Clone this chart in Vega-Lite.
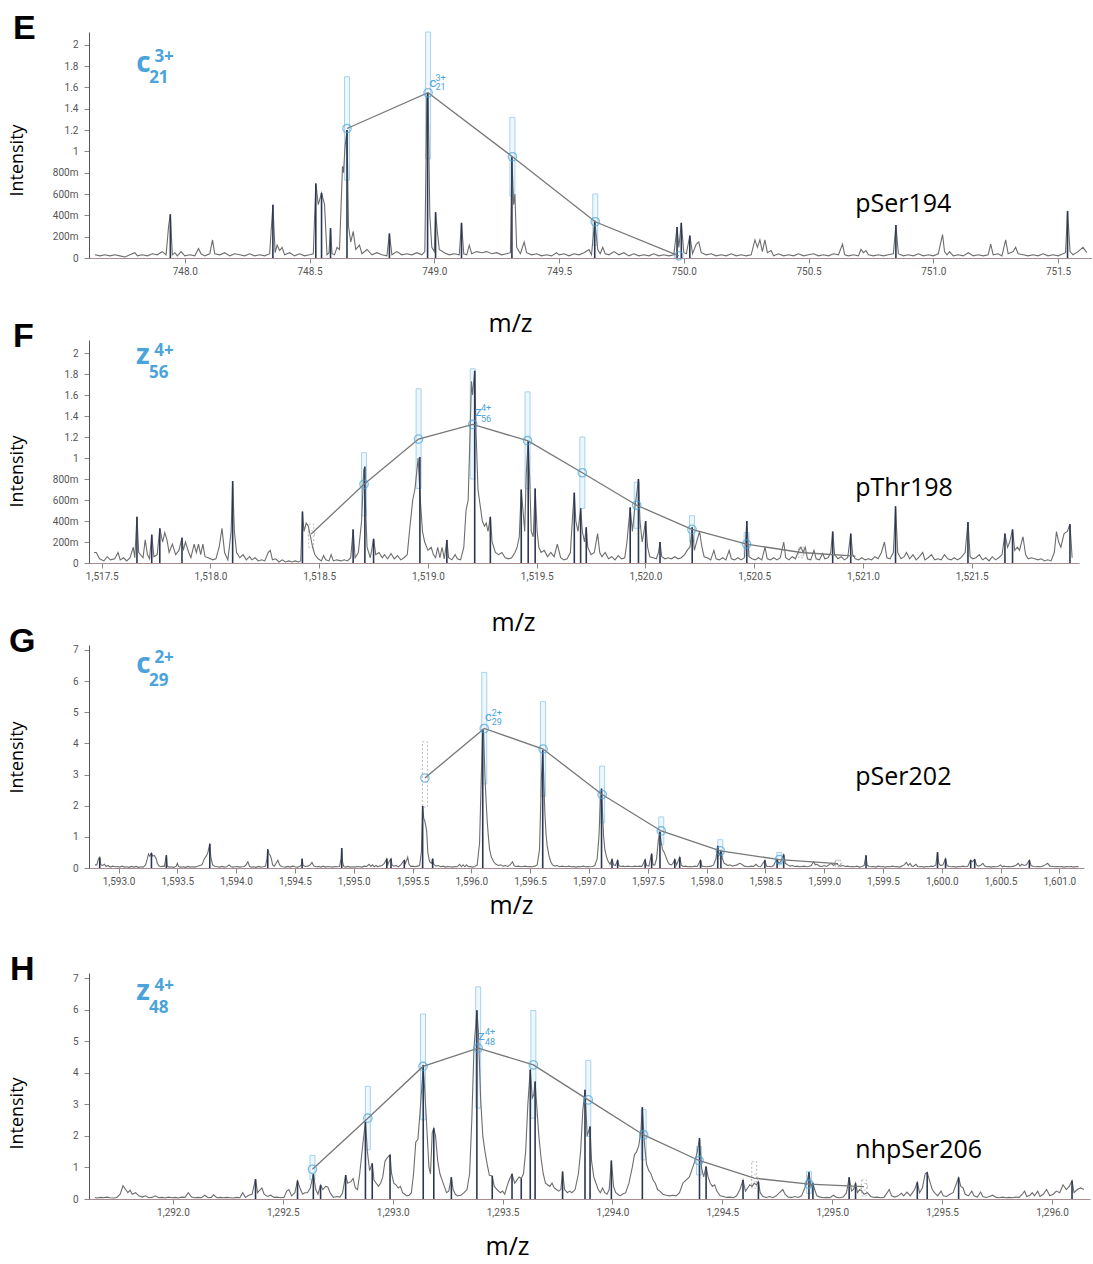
{
"$schema":"https://vega.github.io/schema/vega-lite/v6.json",
"padding":{"left":8,"top":11,"right":0,"bottom":12},
"bounds":"flush",
"spacing":0,
"datasets":{
"Ep":[{"mz":747.64,"i":0.03},{"mz":747.66,"i":0.02},{"mz":747.68,"i":0.03},{"mz":747.70,"i":0.02},{"mz":747.72,"i":0.03},{"mz":747.74,"i":0.02},{"mz":747.76,"i":0.01},{"mz":747.78,"i":0.03},{"mz":747.80,"i":0.05},{"mz":747.81,"i":0.02},{"mz":747.83,"i":0.03},{"mz":747.85,"i":0.02},{"mz":747.87,"i":0.04},{"mz":747.89,"i":0.03},{"mz":747.91,"i":0.06},{"mz":747.925,"i":0.03},{"mz":747.935,"i":0.3},{"mz":747.942,"i":0.41},{"mz":747.95,"i":0.03},{"mz":747.96,"i":0.05},{"mz":747.97,"i":0.02},{"mz":747.985,"i":0.06},{"mz":748.0,"i":0.02},{"mz":748.02,"i":0.03},{"mz":748.04,"i":0.02},{"mz":748.055,"i":0.09},{"mz":748.065,"i":0.04},{"mz":748.08,"i":0.02},{"mz":748.1,"i":0.04},{"mz":748.111,"i":0.17},{"mz":748.12,"i":0.04},{"mz":748.14,"i":0.03},{"mz":748.16,"i":0.05},{"mz":748.18,"i":0.02},{"mz":748.2,"i":0.04},{"mz":748.22,"i":0.03},{"mz":748.24,"i":0.02},{"mz":748.26,"i":0.04},{"mz":748.28,"i":0.02},{"mz":748.3,"i":0.03},{"mz":748.32,"i":0.02},{"mz":748.34,"i":0.04},{"mz":748.353,"i":0.5},{"mz":748.362,"i":0.05},{"mz":748.37,"i":0.12},{"mz":748.38,"i":0.07},{"mz":748.39,"i":0.1},{"mz":748.4,"i":0.03},{"mz":748.42,"i":0.05},{"mz":748.44,"i":0.02},{"mz":748.46,"i":0.04},{"mz":748.48,"i":0.02},{"mz":748.5,"i":0.03},{"mz":748.515,"i":0.04},{"mz":748.525,"i":0.7},{"mz":748.535,"i":0.5},{"mz":748.548,"i":0.61},{"mz":748.56,"i":0.5},{"mz":748.57,"i":0.03},{"mz":748.578,"i":0.05},{"mz":748.584,"i":0.28},{"mz":748.59,"i":0.04},{"mz":748.6,"i":0.03},{"mz":748.61,"i":0.1},{"mz":748.62,"i":0.08},{"mz":748.632,"i":0.86},{"mz":748.636,"i":0.8},{"mz":748.642,"i":1.04},{"mz":748.65,"i":1.2},{"mz":748.656,"i":0.3},{"mz":748.665,"i":0.15},{"mz":748.675,"i":0.25},{"mz":748.685,"i":0.08},{"mz":748.7,"i":0.12},{"mz":748.71,"i":0.04},{"mz":748.73,"i":0.08},{"mz":748.75,"i":0.03},{"mz":748.77,"i":0.05},{"mz":748.79,"i":0.03},{"mz":748.81,"i":0.02},{"mz":748.82,"i":0.23},{"mz":748.83,"i":0.03},{"mz":748.85,"i":0.06},{"mz":748.87,"i":0.03},{"mz":748.89,"i":0.04},{"mz":748.91,"i":0.03},{"mz":748.93,"i":0.05},{"mz":748.95,"i":0.03},{"mz":748.962,"i":0.06},{"mz":748.97,"i":1.5},{"mz":748.975,"i":1.55},{"mz":748.982,"i":0.4},{"mz":748.99,"i":0.1},{"mz":749.0,"i":0.06},{"mz":749.005,"i":0.43},{"mz":749.012,"i":0.25},{"mz":749.02,"i":0.08},{"mz":749.04,"i":0.05},{"mz":749.06,"i":0.03},{"mz":749.08,"i":0.04},{"mz":749.1,"i":0.03},{"mz":749.109,"i":0.33},{"mz":749.118,"i":0.04},{"mz":749.13,"i":0.03},{"mz":749.14,"i":0.12},{"mz":749.15,"i":0.04},{"mz":749.17,"i":0.06},{"mz":749.19,"i":0.05},{"mz":749.21,"i":0.06},{"mz":749.23,"i":0.04},{"mz":749.25,"i":0.05},{"mz":749.27,"i":0.03},{"mz":749.29,"i":0.04},{"mz":749.305,"i":0.05},{"mz":749.311,"i":0.93},{"mz":749.318,"i":0.5},{"mz":749.323,"i":0.6},{"mz":749.33,"i":0.1},{"mz":749.345,"i":0.04},{"mz":749.36,"i":0.15},{"mz":749.37,"i":0.05},{"mz":749.39,"i":0.03},{"mz":749.41,"i":0.04},{"mz":749.43,"i":0.02},{"mz":749.45,"i":0.03},{"mz":749.47,"i":0.02},{"mz":749.49,"i":0.05},{"mz":749.5,"i":0.03},{"mz":749.52,"i":0.04},{"mz":749.54,"i":0.02},{"mz":749.56,"i":0.04},{"mz":749.58,"i":0.03},{"mz":749.6,"i":0.05},{"mz":749.62,"i":0.08},{"mz":749.63,"i":0.03},{"mz":749.643,"i":0.35},{"mz":749.655,"i":0.08},{"mz":749.665,"i":0.04},{"mz":749.675,"i":0.1},{"mz":749.685,"i":0.04},{"mz":749.7,"i":0.03},{"mz":749.72,"i":0.06},{"mz":749.74,"i":0.03},{"mz":749.76,"i":0.05},{"mz":749.78,"i":0.02},{"mz":749.8,"i":0.04},{"mz":749.82,"i":0.02},{"mz":749.84,"i":0.03},{"mz":749.86,"i":0.02},{"mz":749.88,"i":0.04},{"mz":749.9,"i":0.02},{"mz":749.92,"i":0.03},{"mz":749.94,"i":0.02},{"mz":749.96,"i":0.03},{"mz":749.973,"i":0.29},{"mz":749.98,"i":0.1},{"mz":749.99,"i":0.33},{"mz":750.0,"i":0.05},{"mz":750.01,"i":0.04},{"mz":750.024,"i":0.21},{"mz":750.035,"i":0.04},{"mz":750.05,"i":0.13},{"mz":750.06,"i":0.15},{"mz":750.07,"i":0.05},{"mz":750.09,"i":0.03},{"mz":750.11,"i":0.04},{"mz":750.13,"i":0.02},{"mz":750.15,"i":0.03},{"mz":750.17,"i":0.02},{"mz":750.19,"i":0.04},{"mz":750.21,"i":0.02},{"mz":750.23,"i":0.03},{"mz":750.25,"i":0.02},{"mz":750.27,"i":0.03},{"mz":750.285,"i":0.17},{"mz":750.295,"i":0.1},{"mz":750.305,"i":0.17},{"mz":750.315,"i":0.06},{"mz":750.325,"i":0.17},{"mz":750.335,"i":0.05},{"mz":750.35,"i":0.07},{"mz":750.36,"i":0.02},{"mz":750.38,"i":0.04},{"mz":750.4,"i":0.02},{"mz":750.42,"i":0.03},{"mz":750.44,"i":0.02},{"mz":750.46,"i":0.04},{"mz":750.48,"i":0.02},{"mz":750.5,"i":0.03},{"mz":750.52,"i":0.04},{"mz":750.54,"i":0.02},{"mz":750.56,"i":0.03},{"mz":750.58,"i":0.02},{"mz":750.6,"i":0.04},{"mz":750.62,"i":0.03},{"mz":750.636,"i":0.13},{"mz":750.645,"i":0.03},{"mz":750.66,"i":0.02},{"mz":750.68,"i":0.03},{"mz":750.7,"i":0.02},{"mz":750.71,"i":0.08},{"mz":750.72,"i":0.05},{"mz":750.73,"i":0.07},{"mz":750.74,"i":0.03},{"mz":750.76,"i":0.02},{"mz":750.78,"i":0.03},{"mz":750.8,"i":0.02},{"mz":750.82,"i":0.03},{"mz":750.84,"i":0.04},{"mz":750.85,"i":0.31},{"mz":750.86,"i":0.04},{"mz":750.88,"i":0.02},{"mz":750.9,"i":0.03},{"mz":750.92,"i":0.02},{"mz":750.94,"i":0.04},{"mz":750.96,"i":0.02},{"mz":750.98,"i":0.03},{"mz":751.0,"i":0.02},{"mz":751.02,"i":0.04},{"mz":751.037,"i":0.22},{"mz":751.045,"i":0.06},{"mz":751.055,"i":0.03},{"mz":751.065,"i":0.06},{"mz":751.08,"i":0.02},{"mz":751.1,"i":0.03},{"mz":751.12,"i":0.02},{"mz":751.14,"i":0.05},{"mz":751.16,"i":0.02},{"mz":751.18,"i":0.03},{"mz":751.2,"i":0.02},{"mz":751.22,"i":0.03},{"mz":751.23,"i":0.13},{"mz":751.24,"i":0.03},{"mz":751.26,"i":0.04},{"mz":751.275,"i":0.02},{"mz":751.29,"i":0.17},{"mz":751.3,"i":0.04},{"mz":751.32,"i":0.06},{"mz":751.33,"i":0.1},{"mz":751.34,"i":0.04},{"mz":751.36,"i":0.03},{"mz":751.38,"i":0.02},{"mz":751.4,"i":0.03},{"mz":751.42,"i":0.02},{"mz":751.44,"i":0.04},{"mz":751.46,"i":0.02},{"mz":751.48,"i":0.03},{"mz":751.5,"i":0.02},{"mz":751.52,"i":0.04},{"mz":751.53,"i":0.05},{"mz":751.538,"i":0.44},{"mz":751.548,"i":0.06},{"mz":751.56,"i":0.03},{"mz":751.58,"i":0.06},{"mz":751.6,"i":0.1},{"mz":751.615,"i":0.05}],
"Es":[{"mz":747.942,"i":0.41},{"mz":748.353,"i":0.5},{"mz":748.525,"i":0.7},{"mz":748.548,"i":0.61},{"mz":748.584,"i":0.28},{"mz":748.65,"i":1.2},{"mz":748.82,"i":0.23},{"mz":748.973,"i":1.55},{"mz":749.005,"i":0.43},{"mz":749.109,"i":0.33},{"mz":749.311,"i":0.95},{"mz":749.643,"i":0.35},{"mz":749.973,"i":0.29},{"mz":749.99,"i":0.33},{"mz":750.024,"i":0.21},{"mz":750.85,"i":0.31},{"mz":751.538,"i":0.44}],
"Ee":[{"mz":748.65,"i":1.215,"m":"y"},{"mz":748.975,"i":1.55,"m":"y"},{"mz":749.313,"i":0.95,"m":"y"},{"mz":749.645,"i":0.34,"m":"y"},{"mz":749.98,"i":0.02,"m":"y"}],
"Eb":[{"mz":748.65,"lo":0.73,"hi":1.7,"m":"y"},{"mz":748.975,"lo":0.93,"hi":2.12,"m":"y"},{"mz":749.313,"lo":0.58,"hi":1.32,"m":"y"},{"mz":749.645,"lo":0.12,"hi":0.6,"m":"y"}],
"El":[{"mz":747.805,"i":1.746,"t":"c","k":"big"},{"mz":747.878,"i":1.837,"t":"3+","k":"bigs"},{"mz":747.857,"i":1.638,"t":"21","k":"bigs"},{"mz":748.981,"i":1.603,"t":"c","k":"sym"},{"mz":749.005,"i":1.66,"t":"3+","k":"sm"},{"mz":749.005,"i":1.575,"t":"21","k":"sm"},{"mz":750.687,"i":0.432,"t":"pSer194","k":"name"}],

"Fp":[{"mz":1517.465,"i":0.1},{"mz":1517.475,"i":0.1},{"mz":1517.49,"i":0.04},{"mz":1517.51,"i":0.02},{"mz":1517.525,"i":0.06},{"mz":1517.54,"i":0.03},{"mz":1517.56,"i":0.04},{"mz":1517.575,"i":0.1},{"mz":1517.585,"i":0.03},{"mz":1517.6,"i":0.05},{"mz":1517.615,"i":0.02},{"mz":1517.63,"i":0.05},{"mz":1517.645,"i":0.15},{"mz":1517.652,"i":0.05},{"mz":1517.662,"i":0.44},{"mz":1517.67,"i":0.1},{"mz":1517.69,"i":0.05},{"mz":1517.7,"i":0.22},{"mz":1517.71,"i":0.08},{"mz":1517.72,"i":0.04},{"mz":1517.73,"i":0.27},{"mz":1517.74,"i":0.06},{"mz":1517.755,"i":0.08},{"mz":1517.767,"i":0.33},{"mz":1517.78,"i":0.2},{"mz":1517.79,"i":0.29},{"mz":1517.8,"i":0.22},{"mz":1517.81,"i":0.1},{"mz":1517.825,"i":0.18},{"mz":1517.84,"i":0.08},{"mz":1517.855,"i":0.12},{"mz":1517.869,"i":0.24},{"mz":1517.875,"i":0.12},{"mz":1517.885,"i":0.2},{"mz":1517.9,"i":0.1},{"mz":1517.91,"i":0.05},{"mz":1517.925,"i":0.18},{"mz":1517.935,"i":0.1},{"mz":1517.945,"i":0.18},{"mz":1517.955,"i":0.08},{"mz":1517.965,"i":0.18},{"mz":1517.975,"i":0.06},{"mz":1517.99,"i":0.05},{"mz":1518.01,"i":0.03},{"mz":1518.025,"i":0.04},{"mz":1518.04,"i":0.15},{"mz":1518.053,"i":0.33},{"mz":1518.065,"i":0.1},{"mz":1518.08,"i":0.03},{"mz":1518.095,"i":0.3},{"mz":1518.102,"i":0.78},{"mz":1518.11,"i":0.3},{"mz":1518.12,"i":0.1},{"mz":1518.135,"i":0.05},{"mz":1518.15,"i":0.08},{"mz":1518.165,"i":0.03},{"mz":1518.18,"i":0.06},{"mz":1518.19,"i":0.03},{"mz":1518.205,"i":0.05},{"mz":1518.22,"i":0.02},{"mz":1518.235,"i":0.03},{"mz":1518.25,"i":0.02},{"mz":1518.265,"i":0.1},{"mz":1518.275,"i":0.12},{"mz":1518.285,"i":0.03},{"mz":1518.3,"i":0.04},{"mz":1518.315,"i":0.01},{"mz":1518.33,"i":0.03},{"mz":1518.345,"i":0.01},{"mz":1518.36,"i":0.02},{"mz":1518.375,"i":0.01},{"mz":1518.39,"i":0.02},{"mz":1518.405,"i":0.01},{"mz":1518.415,"i":0.02},{"mz":1518.423,"i":0.49},{"mz":1518.43,"i":0.3},{"mz":1518.44,"i":0.38},{"mz":1518.45,"i":0.35},{"mz":1518.46,"i":0.25},{"mz":1518.47,"i":0.15},{"mz":1518.48,"i":0.08},{"mz":1518.495,"i":0.04},{"mz":1518.51,"i":0.02},{"mz":1518.52,"i":0.07},{"mz":1518.53,"i":0.03},{"mz":1518.545,"i":0.02},{"mz":1518.555,"i":0.08},{"mz":1518.565,"i":0.02},{"mz":1518.58,"i":0.03},{"mz":1518.6,"i":0.02},{"mz":1518.615,"i":0.03},{"mz":1518.63,"i":0.02},{"mz":1518.645,"i":0.05},{"mz":1518.656,"i":0.32},{"mz":1518.665,"i":0.05},{"mz":1518.68,"i":0.1},{"mz":1518.695,"i":0.4},{"mz":1518.705,"i":0.9},{"mz":1518.712,"i":0.6},{"mz":1518.72,"i":0.15},{"mz":1518.735,"i":0.05},{"mz":1518.75,"i":0.23},{"mz":1518.76,"i":0.08},{"mz":1518.775,"i":0.1},{"mz":1518.79,"i":0.05},{"mz":1518.8,"i":0.08},{"mz":1518.815,"i":0.04},{"mz":1518.83,"i":0.09},{"mz":1518.845,"i":0.04},{"mz":1518.86,"i":0.07},{"mz":1518.875,"i":0.03},{"mz":1518.89,"i":0.05},{"mz":1518.905,"i":0.08},{"mz":1518.915,"i":0.3},{"mz":1518.93,"i":0.6},{"mz":1518.94,"i":0.7},{"mz":1518.955,"i":1.0},{"mz":1518.965,"i":0.6},{"mz":1518.975,"i":0.3},{"mz":1518.985,"i":0.2},{"mz":1519.0,"i":0.12},{"mz":1519.015,"i":0.15},{"mz":1519.025,"i":0.08},{"mz":1519.035,"i":0.05},{"mz":1519.045,"i":0.15},{"mz":1519.055,"i":0.05},{"mz":1519.065,"i":0.15},{"mz":1519.075,"i":0.04},{"mz":1519.087,"i":0.22},{"mz":1519.095,"i":0.05},{"mz":1519.11,"i":0.03},{"mz":1519.125,"i":0.08},{"mz":1519.135,"i":0.04},{"mz":1519.15,"i":0.03},{"mz":1519.165,"i":0.15},{"mz":1519.175,"i":0.5},{"mz":1519.185,"i":0.6},{"mz":1519.195,"i":1.35},{"mz":1519.2,"i":1.73},{"mz":1519.205,"i":1.6},{"mz":1519.215,"i":1.83},{"mz":1519.222,"i":1.2},{"mz":1519.23,"i":0.7},{"mz":1519.24,"i":0.55},{"mz":1519.25,"i":0.4},{"mz":1519.26,"i":0.35},{"mz":1519.268,"i":0.38},{"mz":1519.276,"i":0.3},{"mz":1519.287,"i":0.44},{"mz":1519.295,"i":0.2},{"mz":1519.31,"i":0.1},{"mz":1519.325,"i":0.08},{"mz":1519.34,"i":0.1},{"mz":1519.355,"i":0.05},{"mz":1519.37,"i":0.04},{"mz":1519.385,"i":0.05},{"mz":1519.4,"i":0.1},{"mz":1519.41,"i":0.15},{"mz":1519.42,"i":0.25},{"mz":1519.429,"i":0.7},{"mz":1519.437,"i":0.5},{"mz":1519.445,"i":0.3},{"mz":1519.452,"i":0.85},{"mz":1519.461,"i":1.16},{"mz":1519.468,"i":0.8},{"mz":1519.475,"i":0.3},{"mz":1519.484,"i":0.25},{"mz":1519.493,"i":0.71},{"mz":1519.502,"i":0.3},{"mz":1519.51,"i":0.15},{"mz":1519.52,"i":0.1},{"mz":1519.535,"i":0.12},{"mz":1519.55,"i":0.06},{"mz":1519.565,"i":0.1},{"mz":1519.58,"i":0.06},{"mz":1519.595,"i":0.18},{"mz":1519.61,"i":0.05},{"mz":1519.625,"i":0.03},{"mz":1519.64,"i":0.04},{"mz":1519.655,"i":0.1},{"mz":1519.665,"i":0.45},{"mz":1519.673,"i":0.67},{"mz":1519.68,"i":0.4},{"mz":1519.69,"i":0.3},{"mz":1519.702,"i":0.52},{"mz":1519.71,"i":0.3},{"mz":1519.72,"i":0.2},{"mz":1519.728,"i":0.34},{"mz":1519.735,"i":0.15},{"mz":1519.75,"i":0.08},{"mz":1519.765,"i":0.1},{"mz":1519.78,"i":0.28},{"mz":1519.79,"i":0.1},{"mz":1519.8,"i":0.06},{"mz":1519.815,"i":0.1},{"mz":1519.83,"i":0.04},{"mz":1519.845,"i":0.06},{"mz":1519.86,"i":0.03},{"mz":1519.875,"i":0.07},{"mz":1519.89,"i":0.04},{"mz":1519.905,"i":0.05},{"mz":1519.915,"i":0.2},{"mz":1519.93,"i":0.53},{"mz":1519.94,"i":0.3},{"mz":1519.95,"i":0.5},{"mz":1519.968,"i":0.8},{"mz":1519.975,"i":0.4},{"mz":1519.985,"i":0.2},{"mz":1520.001,"i":0.4},{"mz":1520.01,"i":0.15},{"mz":1520.02,"i":0.06},{"mz":1520.035,"i":0.05},{"mz":1520.05,"i":0.04},{"mz":1520.06,"i":0.1},{"mz":1520.067,"i":0.2},{"mz":1520.075,"i":0.06},{"mz":1520.09,"i":0.04},{"mz":1520.105,"i":0.05},{"mz":1520.12,"i":0.04},{"mz":1520.135,"i":0.06},{"mz":1520.15,"i":0.04},{"mz":1520.165,"i":0.05},{"mz":1520.18,"i":0.08},{"mz":1520.195,"i":0.13},{"mz":1520.205,"i":0.15},{"mz":1520.215,"i":0.34},{"mz":1520.225,"i":0.12},{"mz":1520.235,"i":0.2},{"mz":1520.249,"i":0.3},{"mz":1520.26,"i":0.15},{"mz":1520.27,"i":0.06},{"mz":1520.285,"i":0.05},{"mz":1520.3,"i":0.03},{"mz":1520.315,"i":0.12},{"mz":1520.325,"i":0.04},{"mz":1520.34,"i":0.03},{"mz":1520.355,"i":0.05},{"mz":1520.37,"i":0.03},{"mz":1520.385,"i":0.12},{"mz":1520.395,"i":0.04},{"mz":1520.41,"i":0.03},{"mz":1520.425,"i":0.05},{"mz":1520.44,"i":0.03},{"mz":1520.455,"i":0.05},{"mz":1520.466,"i":0.4},{"mz":1520.476,"i":0.06},{"mz":1520.49,"i":0.04},{"mz":1520.505,"i":0.03},{"mz":1520.52,"i":0.05},{"mz":1520.535,"i":0.03},{"mz":1520.55,"i":0.15},{"mz":1520.56,"i":0.04},{"mz":1520.575,"i":0.03},{"mz":1520.59,"i":0.05},{"mz":1520.605,"i":0.03},{"mz":1520.62,"i":0.05},{"mz":1520.636,"i":0.2},{"mz":1520.645,"i":0.05},{"mz":1520.66,"i":0.03},{"mz":1520.675,"i":0.06},{"mz":1520.69,"i":0.04},{"mz":1520.705,"i":0.12},{"mz":1520.715,"i":0.15},{"mz":1520.725,"i":0.1},{"mz":1520.735,"i":0.15},{"mz":1520.745,"i":0.04},{"mz":1520.76,"i":0.03},{"mz":1520.775,"i":0.12},{"mz":1520.785,"i":0.04},{"mz":1520.8,"i":0.03},{"mz":1520.815,"i":0.09},{"mz":1520.825,"i":0.04},{"mz":1520.84,"i":0.05},{"mz":1520.852,"i":0.1},{"mz":1520.861,"i":0.3},{"mz":1520.87,"i":0.08},{"mz":1520.885,"i":0.04},{"mz":1520.9,"i":0.06},{"mz":1520.915,"i":0.03},{"mz":1520.93,"i":0.05},{"mz":1520.944,"i":0.28},{"mz":1520.953,"i":0.08},{"mz":1520.965,"i":0.04},{"mz":1520.98,"i":0.03},{"mz":1520.995,"i":0.05},{"mz":1521.01,"i":0.03},{"mz":1521.025,"i":0.04},{"mz":1521.04,"i":0.03},{"mz":1521.055,"i":0.06},{"mz":1521.07,"i":0.04},{"mz":1521.085,"i":0.1},{"mz":1521.099,"i":0.2},{"mz":1521.11,"i":0.05},{"mz":1521.125,"i":0.04},{"mz":1521.14,"i":0.1},{"mz":1521.15,"i":0.54},{"mz":1521.16,"i":0.1},{"mz":1521.175,"i":0.04},{"mz":1521.19,"i":0.06},{"mz":1521.2,"i":0.1},{"mz":1521.215,"i":0.04},{"mz":1521.23,"i":0.08},{"mz":1521.245,"i":0.03},{"mz":1521.26,"i":0.06},{"mz":1521.275,"i":0.1},{"mz":1521.285,"i":0.03},{"mz":1521.3,"i":0.05},{"mz":1521.315,"i":0.08},{"mz":1521.33,"i":0.03},{"mz":1521.345,"i":0.04},{"mz":1521.36,"i":0.03},{"mz":1521.375,"i":0.08},{"mz":1521.39,"i":0.04},{"mz":1521.405,"i":0.03},{"mz":1521.42,"i":0.05},{"mz":1521.435,"i":0.03},{"mz":1521.45,"i":0.05},{"mz":1521.47,"i":0.1},{"mz":1521.483,"i":0.39},{"mz":1521.493,"i":0.06},{"mz":1521.505,"i":0.04},{"mz":1521.52,"i":0.05},{"mz":1521.535,"i":0.08},{"mz":1521.55,"i":0.03},{"mz":1521.565,"i":0.05},{"mz":1521.58,"i":0.02},{"mz":1521.595,"i":0.06},{"mz":1521.61,"i":0.03},{"mz":1521.625,"i":0.05},{"mz":1521.64,"i":0.08},{"mz":1521.653,"i":0.28},{"mz":1521.665,"i":0.15},{"mz":1521.675,"i":0.2},{"mz":1521.688,"i":0.32},{"mz":1521.698,"i":0.12},{"mz":1521.71,"i":0.15},{"mz":1521.72,"i":0.12},{"mz":1521.736,"i":0.25},{"mz":1521.748,"i":0.08},{"mz":1521.76,"i":0.04},{"mz":1521.775,"i":0.05},{"mz":1521.79,"i":0.04},{"mz":1521.805,"i":0.03},{"mz":1521.82,"i":0.04},{"mz":1521.835,"i":0.02},{"mz":1521.85,"i":0.03},{"mz":1521.865,"i":0.02},{"mz":1521.88,"i":0.1},{"mz":1521.89,"i":0.3},{"mz":1521.9,"i":0.2},{"mz":1521.91,"i":0.15},{"mz":1521.925,"i":0.28},{"mz":1521.94,"i":0.3},{"mz":1521.952,"i":0.37},{"mz":1521.962,"i":0.05}],
"Fs":[{"mz":1517.662,"i":0.44},{"mz":1517.73,"i":0.27},{"mz":1517.767,"i":0.33},{"mz":1517.869,"i":0.24},{"mz":1518.102,"i":0.78},{"mz":1518.423,"i":0.49},{"mz":1518.656,"i":0.32},{"mz":1518.71,"i":0.92},{"mz":1518.75,"i":0.23},{"mz":1518.963,"i":1.01},{"mz":1519.087,"i":0.22},{"mz":1519.215,"i":1.83},{"mz":1519.287,"i":0.44},{"mz":1519.429,"i":0.7},{"mz":1519.461,"i":1.16},{"mz":1519.493,"i":0.71},{"mz":1519.673,"i":0.67},{"mz":1519.702,"i":0.52},{"mz":1519.728,"i":0.34},{"mz":1519.93,"i":0.53},{"mz":1519.968,"i":0.8},{"mz":1520.001,"i":0.4},{"mz":1520.067,"i":0.2},{"mz":1520.215,"i":0.34},{"mz":1520.466,"i":0.4},{"mz":1520.861,"i":0.3},{"mz":1520.944,"i":0.28},{"mz":1521.15,"i":0.54},{"mz":1521.483,"i":0.39},{"mz":1521.653,"i":0.28},{"mz":1521.688,"i":0.32},{"mz":1521.952,"i":0.37}],
"Fe":[{"mz":1518.463,"i":0.276,"m":"n"},{"mz":1518.706,"i":0.75,"m":"y"},{"mz":1518.957,"i":1.18,"m":"y"},{"mz":1519.206,"i":1.32,"m":"y"},{"mz":1519.458,"i":1.165,"m":"y"},{"mz":1519.71,"i":0.86,"m":"y"},{"mz":1519.96,"i":0.55,"m":"y"},{"mz":1520.214,"i":0.32,"m":"y"},{"mz":1520.465,"i":0.18,"m":"y"},{"mz":1520.716,"i":0.1,"m":"n"},{"mz":1520.966,"i":0.065,"m":"x"}],
"Fb":[{"mz":1518.463,"lo":0.15,"hi":0.37,"m":"n"},{"mz":1518.706,"lo":0.45,"hi":1.05,"m":"y"},{"mz":1518.957,"lo":0.71,"hi":1.66,"m":"y"},{"mz":1519.206,"lo":0.8,"hi":1.85,"m":"y"},{"mz":1519.458,"lo":0.71,"hi":1.63,"m":"y"},{"mz":1519.71,"lo":0.52,"hi":1.2,"m":"y"},{"mz":1519.96,"lo":0.33,"hi":0.77,"m":"y"},{"mz":1520.214,"lo":0.2,"hi":0.45,"m":"y"},{"mz":1520.465,"lo":0.07,"hi":0.29,"m":"y"},{"mz":1520.716,"lo":0.05,"hi":0.15,"m":"n"}],
"Fl":[{"mz":1517.658,"i":1.898,"t":"z","k":"big"},{"mz":1517.742,"i":1.974,"t":"4+","k":"bigs"},{"mz":1517.717,"i":1.765,"t":"56","k":"bigs"},{"mz":1519.217,"i":1.4,"t":"z","k":"sym"},{"mz":1519.244,"i":1.45,"t":"4+","k":"sm"},{"mz":1519.244,"i":1.346,"t":"56","k":"sm"},{"mz":1520.965,"i":0.641,"t":"pThr198","k":"name"}],

"Gp":[{"mz":1592.8,"i":0.1},{"mz":1592.815,"i":0.1},{"mz":1592.83,"i":0.3},{"mz":1592.84,"i":0.35},{"mz":1592.85,"i":0.1},{"mz":1592.865,"i":0.08},{"mz":1592.88,"i":0.12},{"mz":1592.895,"i":0.05},{"mz":1592.91,"i":0.08},{"mz":1592.93,"i":0.03},{"mz":1592.95,"i":0.06},{"mz":1592.97,"i":0.04},{"mz":1592.99,"i":0.05},{"mz":1593.01,"i":0.03},{"mz":1593.03,"i":0.06},{"mz":1593.05,"i":0.03},{"mz":1593.07,"i":0.04},{"mz":1593.09,"i":0.02},{"mz":1593.11,"i":0.05},{"mz":1593.13,"i":0.03},{"mz":1593.15,"i":0.05},{"mz":1593.17,"i":0.02},{"mz":1593.19,"i":0.04},{"mz":1593.21,"i":0.03},{"mz":1593.23,"i":0.1},{"mz":1593.245,"i":0.3},{"mz":1593.255,"i":0.45},{"mz":1593.265,"i":0.38},{"mz":1593.28,"i":0.48},{"mz":1593.29,"i":0.38},{"mz":1593.305,"i":0.4},{"mz":1593.32,"i":0.3},{"mz":1593.33,"i":0.15},{"mz":1593.345,"i":0.06},{"mz":1593.36,"i":0.04},{"mz":1593.375,"i":0.06},{"mz":1593.39,"i":0.05},{"mz":1593.407,"i":0.41},{"mz":1593.415,"i":0.06},{"mz":1593.43,"i":0.03},{"mz":1593.45,"i":0.04},{"mz":1593.47,"i":0.02},{"mz":1593.49,"i":0.05},{"mz":1593.5,"i":0.15},{"mz":1593.51,"i":0.05},{"mz":1593.53,"i":0.03},{"mz":1593.55,"i":0.04},{"mz":1593.57,"i":0.02},{"mz":1593.59,"i":0.05},{"mz":1593.61,"i":0.03},{"mz":1593.63,"i":0.04},{"mz":1593.65,"i":0.03},{"mz":1593.67,"i":0.05},{"mz":1593.69,"i":0.08},{"mz":1593.71,"i":0.1},{"mz":1593.73,"i":0.3},{"mz":1593.746,"i":0.38},{"mz":1593.76,"i":0.5},{"mz":1593.776,"i":0.78},{"mz":1593.785,"i":0.35},{"mz":1593.8,"i":0.1},{"mz":1593.82,"i":0.05},{"mz":1593.84,"i":0.04},{"mz":1593.86,"i":0.03},{"mz":1593.88,"i":0.05},{"mz":1593.9,"i":0.03},{"mz":1593.92,"i":0.04},{"mz":1593.94,"i":0.1},{"mz":1593.955,"i":0.05},{"mz":1593.97,"i":0.03},{"mz":1593.99,"i":0.04},{"mz":1594.01,"i":0.05},{"mz":1594.03,"i":0.03},{"mz":1594.05,"i":0.04},{"mz":1594.07,"i":0.05},{"mz":1594.085,"i":0.1},{"mz":1594.1,"i":0.2},{"mz":1594.115,"i":0.05},{"mz":1594.13,"i":0.03},{"mz":1594.15,"i":0.04},{"mz":1594.17,"i":0.02},{"mz":1594.19,"i":0.05},{"mz":1594.21,"i":0.03},{"mz":1594.23,"i":0.04},{"mz":1594.25,"i":0.06},{"mz":1594.262,"i":0.3},{"mz":1594.269,"i":0.6},{"mz":1594.28,"i":0.45},{"mz":1594.29,"i":0.4},{"mz":1594.3,"i":0.3},{"mz":1594.31,"i":0.1},{"mz":1594.325,"i":0.06},{"mz":1594.34,"i":0.15},{"mz":1594.355,"i":0.25},{"mz":1594.37,"i":0.1},{"mz":1594.385,"i":0.05},{"mz":1594.4,"i":0.04},{"mz":1594.42,"i":0.03},{"mz":1594.44,"i":0.05},{"mz":1594.46,"i":0.03},{"mz":1594.48,"i":0.06},{"mz":1594.5,"i":0.04},{"mz":1594.52,"i":0.03},{"mz":1594.54,"i":0.05},{"mz":1594.555,"i":0.1},{"mz":1594.561,"i":0.3},{"mz":1594.57,"i":0.08},{"mz":1594.59,"i":0.05},{"mz":1594.61,"i":0.06},{"mz":1594.63,"i":0.1},{"mz":1594.645,"i":0.18},{"mz":1594.66,"i":0.06},{"mz":1594.68,"i":0.04},{"mz":1594.7,"i":0.05},{"mz":1594.72,"i":0.03},{"mz":1594.74,"i":0.06},{"mz":1594.76,"i":0.03},{"mz":1594.78,"i":0.05},{"mz":1594.8,"i":0.04},{"mz":1594.82,"i":0.03},{"mz":1594.84,"i":0.05},{"mz":1594.86,"i":0.04},{"mz":1594.88,"i":0.05},{"mz":1594.892,"i":0.3},{"mz":1594.898,"i":0.64},{"mz":1594.905,"i":0.2},{"mz":1594.915,"i":0.05},{"mz":1594.93,"i":0.03},{"mz":1594.95,"i":0.05},{"mz":1594.97,"i":0.03},{"mz":1594.99,"i":0.04},{"mz":1595.01,"i":0.03},{"mz":1595.03,"i":0.05},{"mz":1595.05,"i":0.04},{"mz":1595.07,"i":0.03},{"mz":1595.09,"i":0.06},{"mz":1595.11,"i":0.05},{"mz":1595.13,"i":0.12},{"mz":1595.145,"i":0.05},{"mz":1595.16,"i":0.1},{"mz":1595.175,"i":0.04},{"mz":1595.19,"i":0.08},{"mz":1595.205,"i":0.04},{"mz":1595.22,"i":0.06},{"mz":1595.24,"i":0.08},{"mz":1595.26,"i":0.15},{"mz":1595.281,"i":0.3},{"mz":1595.29,"i":0.1},{"mz":1595.3,"i":0.2},{"mz":1595.317,"i":0.3},{"mz":1595.325,"i":0.1},{"mz":1595.34,"i":0.06},{"mz":1595.36,"i":0.08},{"mz":1595.38,"i":0.04},{"mz":1595.4,"i":0.1},{"mz":1595.43,"i":0.25},{"mz":1595.44,"i":0.15},{"mz":1595.459,"i":0.35},{"mz":1595.47,"i":0.12},{"mz":1595.485,"i":0.05},{"mz":1595.5,"i":0.06},{"mz":1595.52,"i":0.04},{"mz":1595.54,"i":0.06},{"mz":1595.56,"i":0.08},{"mz":1595.575,"i":0.5},{"mz":1595.586,"i":1.99},{"mz":1595.595,"i":1.6},{"mz":1595.605,"i":1.5},{"mz":1595.62,"i":1.2},{"mz":1595.63,"i":0.5},{"mz":1595.645,"i":0.2},{"mz":1595.66,"i":0.15},{"mz":1595.671,"i":0.3},{"mz":1595.68,"i":0.12},{"mz":1595.7,"i":0.06},{"mz":1595.72,"i":0.08},{"mz":1595.74,"i":0.04},{"mz":1595.76,"i":0.06},{"mz":1595.78,"i":0.03},{"mz":1595.8,"i":0.05},{"mz":1595.82,"i":0.04},{"mz":1595.84,"i":0.03},{"mz":1595.86,"i":0.05},{"mz":1595.88,"i":0.04},{"mz":1595.9,"i":0.12},{"mz":1595.915,"i":0.04},{"mz":1595.93,"i":0.1},{"mz":1595.945,"i":0.04},{"mz":1595.96,"i":0.1},{"mz":1595.975,"i":0.04},{"mz":1595.99,"i":0.05},{"mz":1596.01,"i":0.03},{"mz":1596.03,"i":0.05},{"mz":1596.05,"i":0.1},{"mz":1596.07,"i":0.8},{"mz":1596.085,"i":3.0},{"mz":1596.097,"i":4.45},{"mz":1596.105,"i":4.3},{"mz":1596.115,"i":3.0},{"mz":1596.125,"i":2.2},{"mz":1596.135,"i":1.5},{"mz":1596.145,"i":1.0},{"mz":1596.155,"i":0.6},{"mz":1596.17,"i":0.35},{"mz":1596.19,"i":0.2},{"mz":1596.21,"i":0.12},{"mz":1596.23,"i":0.08},{"mz":1596.25,"i":0.1},{"mz":1596.27,"i":0.06},{"mz":1596.29,"i":0.08},{"mz":1596.31,"i":0.05},{"mz":1596.33,"i":0.1},{"mz":1596.35,"i":0.2},{"mz":1596.365,"i":0.07},{"mz":1596.38,"i":0.05},{"mz":1596.4,"i":0.06},{"mz":1596.42,"i":0.04},{"mz":1596.44,"i":0.05},{"mz":1596.46,"i":0.06},{"mz":1596.48,"i":0.04},{"mz":1596.5,"i":0.05},{"mz":1596.52,"i":0.04},{"mz":1596.54,"i":0.06},{"mz":1596.56,"i":0.1},{"mz":1596.58,"i":0.6},{"mz":1596.595,"i":2.8},{"mz":1596.607,"i":3.78},{"mz":1596.615,"i":3.0},{"mz":1596.625,"i":1.8},{"mz":1596.635,"i":1.1},{"mz":1596.645,"i":0.7},{"mz":1596.66,"i":0.4},{"mz":1596.675,"i":0.2},{"mz":1596.69,"i":0.1},{"mz":1596.71,"i":0.06},{"mz":1596.73,"i":0.08},{"mz":1596.75,"i":0.04},{"mz":1596.77,"i":0.06},{"mz":1596.79,"i":0.05},{"mz":1596.81,"i":0.04},{"mz":1596.83,"i":0.06},{"mz":1596.85,"i":0.04},{"mz":1596.87,"i":0.05},{"mz":1596.89,"i":0.03},{"mz":1596.91,"i":0.05},{"mz":1596.93,"i":0.04},{"mz":1596.95,"i":0.06},{"mz":1596.97,"i":0.04},{"mz":1596.99,"i":0.05},{"mz":1597.01,"i":0.04},{"mz":1597.03,"i":0.05},{"mz":1597.05,"i":0.08},{"mz":1597.07,"i":0.3},{"mz":1597.085,"i":1.0},{"mz":1597.097,"i":2.1},{"mz":1597.107,"i":2.55},{"mz":1597.115,"i":1.8},{"mz":1597.125,"i":1.0},{"mz":1597.135,"i":0.6},{"mz":1597.15,"i":0.35},{"mz":1597.165,"i":0.2},{"mz":1597.18,"i":0.12},{"mz":1597.196,"i":0.28},{"mz":1597.21,"i":0.1},{"mz":1597.225,"i":0.08},{"mz":1597.244,"i":0.25},{"mz":1597.255,"i":0.08},{"mz":1597.27,"i":0.05},{"mz":1597.29,"i":0.06},{"mz":1597.31,"i":0.04},{"mz":1597.33,"i":0.06},{"mz":1597.35,"i":0.05},{"mz":1597.37,"i":0.04},{"mz":1597.39,"i":0.06},{"mz":1597.41,"i":0.05},{"mz":1597.43,"i":0.06},{"mz":1597.45,"i":0.05},{"mz":1597.478,"i":0.27},{"mz":1597.49,"i":0.08},{"mz":1597.51,"i":0.06},{"mz":1597.533,"i":0.46},{"mz":1597.545,"i":0.1},{"mz":1597.56,"i":0.1},{"mz":1597.575,"i":0.3},{"mz":1597.59,"i":0.9},{"mz":1597.604,"i":1.16},{"mz":1597.612,"i":0.9},{"mz":1597.625,"i":0.6},{"mz":1597.64,"i":0.5},{"mz":1597.655,"i":0.35},{"mz":1597.67,"i":0.2},{"mz":1597.685,"i":0.12},{"mz":1597.7,"i":0.1},{"mz":1597.715,"i":0.15},{"mz":1597.73,"i":0.28},{"mz":1597.745,"i":0.1},{"mz":1597.772,"i":0.35},{"mz":1597.785,"i":0.1},{"mz":1597.8,"i":0.05},{"mz":1597.82,"i":0.06},{"mz":1597.84,"i":0.04},{"mz":1597.86,"i":0.05},{"mz":1597.88,"i":0.04},{"mz":1597.9,"i":0.06},{"mz":1597.92,"i":0.05},{"mz":1597.949,"i":0.25},{"mz":1597.96,"i":0.06},{"mz":1597.98,"i":0.05},{"mz":1598.0,"i":0.04},{"mz":1598.02,"i":0.05},{"mz":1598.04,"i":0.06},{"mz":1598.06,"i":0.1},{"mz":1598.08,"i":0.3},{"mz":1598.095,"i":0.71},{"mz":1598.105,"i":0.4},{"mz":1598.122,"i":0.55},{"mz":1598.135,"i":0.3},{"mz":1598.15,"i":0.15},{"mz":1598.165,"i":0.12},{"mz":1598.18,"i":0.08},{"mz":1598.2,"i":0.1},{"mz":1598.22,"i":0.06},{"mz":1598.24,"i":0.08},{"mz":1598.26,"i":0.1},{"mz":1598.28,"i":0.15},{"mz":1598.3,"i":0.12},{"mz":1598.32,"i":0.06},{"mz":1598.34,"i":0.05},{"mz":1598.36,"i":0.04},{"mz":1598.38,"i":0.06},{"mz":1598.4,"i":0.05},{"mz":1598.42,"i":0.12},{"mz":1598.44,"i":0.05},{"mz":1598.46,"i":0.04},{"mz":1598.496,"i":0.25},{"mz":1598.51,"i":0.06},{"mz":1598.53,"i":0.05},{"mz":1598.55,"i":0.04},{"mz":1598.57,"i":0.08},{"mz":1598.585,"i":0.2},{"mz":1598.6,"i":0.28},{"mz":1598.615,"i":0.15},{"mz":1598.63,"i":0.2},{"mz":1598.656,"i":0.43},{"mz":1598.67,"i":0.15},{"mz":1598.69,"i":0.1},{"mz":1598.71,"i":0.06},{"mz":1598.73,"i":0.08},{"mz":1598.75,"i":0.05},{"mz":1598.77,"i":0.06},{"mz":1598.79,"i":0.04},{"mz":1598.81,"i":0.05},{"mz":1598.83,"i":0.06},{"mz":1598.85,"i":0.04},{"mz":1598.87,"i":0.05},{"mz":1598.89,"i":0.08},{"mz":1598.91,"i":0.2},{"mz":1598.925,"i":0.1},{"mz":1598.94,"i":0.12},{"mz":1598.96,"i":0.06},{"mz":1598.98,"i":0.05},{"mz":1599.0,"i":0.08},{"mz":1599.02,"i":0.05},{"mz":1599.04,"i":0.1},{"mz":1599.06,"i":0.15},{"mz":1599.08,"i":0.08},{"mz":1599.1,"i":0.15},{"mz":1599.12,"i":0.1},{"mz":1599.14,"i":0.06},{"mz":1599.16,"i":0.08},{"mz":1599.18,"i":0.05},{"mz":1599.2,"i":0.06},{"mz":1599.22,"i":0.04},{"mz":1599.24,"i":0.05},{"mz":1599.26,"i":0.04},{"mz":1599.28,"i":0.06},{"mz":1599.3,"i":0.03},{"mz":1599.32,"i":0.05},{"mz":1599.34,"i":0.08},{"mz":1599.356,"i":0.41},{"mz":1599.365,"i":0.1},{"mz":1599.38,"i":0.05},{"mz":1599.4,"i":0.04},{"mz":1599.42,"i":0.05},{"mz":1599.44,"i":0.03},{"mz":1599.46,"i":0.06},{"mz":1599.48,"i":0.04},{"mz":1599.5,"i":0.05},{"mz":1599.52,"i":0.03},{"mz":1599.54,"i":0.05},{"mz":1599.56,"i":0.04},{"mz":1599.58,"i":0.06},{"mz":1599.6,"i":0.04},{"mz":1599.62,"i":0.05},{"mz":1599.64,"i":0.03},{"mz":1599.66,"i":0.06},{"mz":1599.68,"i":0.1},{"mz":1599.7,"i":0.18},{"mz":1599.715,"i":0.08},{"mz":1599.73,"i":0.15},{"mz":1599.745,"i":0.06},{"mz":1599.76,"i":0.05},{"mz":1599.78,"i":0.12},{"mz":1599.795,"i":0.05},{"mz":1599.81,"i":0.04},{"mz":1599.83,"i":0.05},{"mz":1599.85,"i":0.03},{"mz":1599.87,"i":0.05},{"mz":1599.89,"i":0.04},{"mz":1599.91,"i":0.06},{"mz":1599.93,"i":0.05},{"mz":1599.95,"i":0.1},{"mz":1599.964,"i":0.51},{"mz":1599.975,"i":0.15},{"mz":1599.99,"i":0.08},{"mz":1600.01,"i":0.1},{"mz":1600.032,"i":0.3},{"mz":1600.045,"i":0.08},{"mz":1600.06,"i":0.05},{"mz":1600.08,"i":0.04},{"mz":1600.1,"i":0.05},{"mz":1600.12,"i":0.03},{"mz":1600.14,"i":0.05},{"mz":1600.16,"i":0.04},{"mz":1600.18,"i":0.06},{"mz":1600.2,"i":0.04},{"mz":1600.22,"i":0.05},{"mz":1600.246,"i":0.25},{"mz":1600.26,"i":0.2},{"mz":1600.28,"i":0.28},{"mz":1600.295,"i":0.1},{"mz":1600.31,"i":0.06},{"mz":1600.33,"i":0.08},{"mz":1600.35,"i":0.15},{"mz":1600.365,"i":0.06},{"mz":1600.38,"i":0.04},{"mz":1600.4,"i":0.05},{"mz":1600.42,"i":0.03},{"mz":1600.44,"i":0.05},{"mz":1600.46,"i":0.04},{"mz":1600.48,"i":0.05},{"mz":1600.5,"i":0.1},{"mz":1600.515,"i":0.04},{"mz":1600.53,"i":0.06},{"mz":1600.55,"i":0.04},{"mz":1600.57,"i":0.05},{"mz":1600.59,"i":0.04},{"mz":1600.61,"i":0.06},{"mz":1600.63,"i":0.08},{"mz":1600.65,"i":0.15},{"mz":1600.665,"i":0.06},{"mz":1600.68,"i":0.12},{"mz":1600.7,"i":0.08},{"mz":1600.72,"i":0.1},{"mz":1600.745,"i":0.25},{"mz":1600.76,"i":0.08},{"mz":1600.78,"i":0.05},{"mz":1600.8,"i":0.04},{"mz":1600.82,"i":0.05},{"mz":1600.84,"i":0.04},{"mz":1600.86,"i":0.06},{"mz":1600.88,"i":0.1},{"mz":1600.9,"i":0.15},{"mz":1600.92,"i":0.06},{"mz":1600.94,"i":0.05},{"mz":1600.96,"i":0.04},{"mz":1600.98,"i":0.05},{"mz":1601.0,"i":0.04},{"mz":1601.02,"i":0.05},{"mz":1601.04,"i":0.03},{"mz":1601.06,"i":0.05},{"mz":1601.08,"i":0.04},{"mz":1601.1,"i":0.05},{"mz":1601.12,"i":0.03},{"mz":1601.14,"i":0.05},{"mz":1601.165,"i":0.04}],
"Gs":[{"mz":1592.84,"i":0.33},{"mz":1593.28,"i":0.48},{"mz":1593.407,"i":0.41},{"mz":1593.776,"i":0.78},{"mz":1594.269,"i":0.6},{"mz":1594.561,"i":0.3},{"mz":1594.898,"i":0.64},{"mz":1595.281,"i":0.3},{"mz":1595.317,"i":0.3},{"mz":1595.43,"i":0.25},{"mz":1595.586,"i":1.99},{"mz":1595.671,"i":0.3},{"mz":1596.097,"i":4.45},{"mz":1596.607,"i":3.78},{"mz":1597.107,"i":2.55},{"mz":1597.196,"i":0.28},{"mz":1597.244,"i":0.25},{"mz":1597.478,"i":0.27},{"mz":1597.533,"i":0.46},{"mz":1597.604,"i":1.16},{"mz":1597.73,"i":0.28},{"mz":1597.772,"i":0.35},{"mz":1597.949,"i":0.25},{"mz":1598.095,"i":0.71},{"mz":1598.122,"i":0.55},{"mz":1598.496,"i":0.25},{"mz":1598.6,"i":0.28},{"mz":1598.656,"i":0.43},{"mz":1599.356,"i":0.41},{"mz":1599.964,"i":0.51},{"mz":1600.032,"i":0.3},{"mz":1600.246,"i":0.25},{"mz":1600.28,"i":0.28},{"mz":1600.745,"i":0.25}],
"Ge":[{"mz":1595.605,"i":2.89,"m":"y"},{"mz":1596.11,"i":4.48,"m":"y"},{"mz":1596.61,"i":3.82,"m":"y"},{"mz":1597.112,"i":2.36,"m":"y"},{"mz":1597.615,"i":1.19,"m":"y"},{"mz":1598.117,"i":0.55,"m":"y"},{"mz":1598.619,"i":0.27,"m":"y"},{"mz":1599.118,"i":0.14,"m":"n"}],
"Gb":[{"mz":1595.605,"lo":1.96,"hi":4.05,"m":"n"},{"mz":1596.11,"lo":2.7,"hi":6.28,"m":"y"},{"mz":1596.61,"lo":2.3,"hi":5.34,"m":"y"},{"mz":1597.112,"lo":1.45,"hi":3.27,"m":"y"},{"mz":1597.615,"lo":0.75,"hi":1.64,"m":"y"},{"mz":1598.117,"lo":0.3,"hi":0.91,"m":"y"},{"mz":1598.619,"lo":0.1,"hi":0.5,"m":"y"},{"mz":1599.118,"lo":0.05,"hi":0.25,"m":"n"}],
"Gl":[{"mz":1593.15,"i":6.26,"t":"c","k":"big"},{"mz":1593.305,"i":6.58,"t":"2+","k":"bigs"},{"mz":1593.26,"i":5.84,"t":"29","k":"bigs"},{"mz":1596.116,"i":4.72,"t":"c","k":"sym"},{"mz":1596.173,"i":4.88,"t":"2+","k":"sm"},{"mz":1596.173,"i":4.59,"t":"29","k":"sm"},{"mz":1599.265,"i":2.66,"t":"pSer202","k":"name"}],

"Hp":[{"mz":1291.645,"i":0.05},{"mz":1291.655,"i":0.03},{"mz":1291.67,"i":0.05},{"mz":1291.685,"i":0.04},{"mz":1291.7,"i":0.06},{"mz":1291.715,"i":0.04},{"mz":1291.73,"i":0.03},{"mz":1291.745,"i":0.05},{"mz":1291.76,"i":0.15},{"mz":1291.773,"i":0.42},{"mz":1291.785,"i":0.3},{"mz":1291.795,"i":0.2},{"mz":1291.805,"i":0.28},{"mz":1291.815,"i":0.15},{"mz":1291.83,"i":0.2},{"mz":1291.845,"i":0.1},{"mz":1291.86,"i":0.06},{"mz":1291.875,"i":0.1},{"mz":1291.89,"i":0.04},{"mz":1291.905,"i":0.05},{"mz":1291.92,"i":0.1},{"mz":1291.935,"i":0.04},{"mz":1291.95,"i":0.05},{"mz":1291.965,"i":0.03},{"mz":1291.98,"i":0.06},{"mz":1291.995,"i":0.04},{"mz":1292.01,"i":0.05},{"mz":1292.025,"i":0.03},{"mz":1292.04,"i":0.06},{"mz":1292.055,"i":0.05},{"mz":1292.07,"i":0.2},{"mz":1292.085,"i":0.06},{"mz":1292.1,"i":0.04},{"mz":1292.115,"i":0.05},{"mz":1292.13,"i":0.04},{"mz":1292.145,"i":0.12},{"mz":1292.16,"i":0.04},{"mz":1292.175,"i":0.05},{"mz":1292.185,"i":0.13},{"mz":1292.2,"i":0.04},{"mz":1292.215,"i":0.05},{"mz":1292.23,"i":0.04},{"mz":1292.245,"i":0.05},{"mz":1292.26,"i":0.04},{"mz":1292.275,"i":0.03},{"mz":1292.29,"i":0.05},{"mz":1292.305,"i":0.04},{"mz":1292.318,"i":0.2},{"mz":1292.33,"i":0.05},{"mz":1292.345,"i":0.12},{"mz":1292.36,"i":0.15},{"mz":1292.376,"i":0.63},{"mz":1292.385,"i":0.2},{"mz":1292.395,"i":0.28},{"mz":1292.405,"i":0.35},{"mz":1292.415,"i":0.15},{"mz":1292.43,"i":0.08},{"mz":1292.445,"i":0.12},{"mz":1292.46,"i":0.05},{"mz":1292.475,"i":0.06},{"mz":1292.49,"i":0.04},{"mz":1292.505,"i":0.05},{"mz":1292.518,"i":0.25},{"mz":1292.528,"i":0.3},{"mz":1292.54,"i":0.1},{"mz":1292.555,"i":0.2},{"mz":1292.567,"i":0.58},{"mz":1292.578,"i":0.35},{"mz":1292.59,"i":0.15},{"mz":1292.6,"i":0.2},{"mz":1292.612,"i":0.2},{"mz":1292.625,"i":0.35},{"mz":1292.639,"i":0.79},{"mz":1292.65,"i":0.3},{"mz":1292.66,"i":0.15},{"mz":1292.672,"i":0.44},{"mz":1292.682,"i":0.3},{"mz":1292.695,"i":0.4},{"mz":1292.705,"i":0.38},{"mz":1292.715,"i":0.2},{"mz":1292.73,"i":0.05},{"mz":1292.745,"i":0.08},{"mz":1292.76,"i":0.06},{"mz":1292.772,"i":0.2},{"mz":1292.786,"i":0.76},{"mz":1292.795,"i":0.5},{"mz":1292.81,"i":0.55},{"mz":1292.82,"i":0.65},{"mz":1292.83,"i":0.35},{"mz":1292.84,"i":0.3},{"mz":1292.85,"i":0.8},{"mz":1292.862,"i":1.6},{"mz":1292.876,"i":2.45},{"mz":1292.885,"i":1.5},{"mz":1292.895,"i":0.9},{"mz":1292.907,"i":1.13},{"mz":1292.915,"i":0.6},{"mz":1292.925,"i":0.5},{"mz":1292.935,"i":0.4},{"mz":1292.945,"i":0.5},{"mz":1292.955,"i":0.7},{"mz":1292.965,"i":1.2},{"mz":1292.975,"i":1.3},{"mz":1292.988,"i":1.4},{"mz":1292.995,"i":0.8},{"mz":1293.005,"i":0.5},{"mz":1293.015,"i":0.45},{"mz":1293.025,"i":0.35},{"mz":1293.035,"i":0.4},{"mz":1293.045,"i":0.2},{"mz":1293.055,"i":0.15},{"mz":1293.065,"i":0.1},{"mz":1293.075,"i":0.12},{"mz":1293.085,"i":0.2},{"mz":1293.095,"i":0.8},{"mz":1293.105,"i":1.8},{"mz":1293.115,"i":1.9},{"mz":1293.125,"i":2.8},{"mz":1293.139,"i":4.2},{"mz":1293.148,"i":3.2},{"mz":1293.158,"i":1.9},{"mz":1293.165,"i":1.0},{"mz":1293.172,"i":0.8},{"mz":1293.18,"i":2.1},{"mz":1293.187,"i":2.24},{"mz":1293.195,"i":2.0},{"mz":1293.205,"i":1.2},{"mz":1293.215,"i":0.8},{"mz":1293.225,"i":0.6},{"mz":1293.235,"i":0.4},{"mz":1293.245,"i":0.2},{"mz":1293.255,"i":0.25},{"mz":1293.267,"i":0.69},{"mz":1293.275,"i":0.3},{"mz":1293.285,"i":0.15},{"mz":1293.295,"i":0.1},{"mz":1293.31,"i":0.12},{"mz":1293.325,"i":0.2},{"mz":1293.338,"i":0.3},{"mz":1293.35,"i":0.8},{"mz":1293.36,"i":2.5},{"mz":1293.37,"i":4.8},{"mz":1293.383,"i":5.98},{"mz":1293.39,"i":5.3},{"mz":1293.4,"i":3.2},{"mz":1293.41,"i":2.0},{"mz":1293.42,"i":1.5},{"mz":1293.43,"i":1.1},{"mz":1293.44,"i":0.75},{"mz":1293.453,"i":0.73},{"mz":1293.462,"i":0.4},{"mz":1293.475,"i":0.3},{"mz":1293.49,"i":0.2},{"mz":1293.5,"i":0.25},{"mz":1293.51,"i":0.15},{"mz":1293.52,"i":0.4},{"mz":1293.53,"i":0.6},{"mz":1293.543,"i":0.79},{"mz":1293.555,"i":0.5},{"mz":1293.565,"i":0.6},{"mz":1293.575,"i":0.7},{"mz":1293.585,"i":0.65},{"mz":1293.595,"i":0.8},{"mz":1293.605,"i":1.5},{"mz":1293.615,"i":3.0},{"mz":1293.626,"i":4.1},{"mz":1293.635,"i":3.2},{"mz":1293.642,"i":3.3},{"mz":1293.648,"i":3.72},{"mz":1293.655,"i":3.0},{"mz":1293.665,"i":2.0},{"mz":1293.675,"i":1.3},{"mz":1293.685,"i":0.8},{"mz":1293.695,"i":0.5},{"mz":1293.705,"i":0.45},{"mz":1293.715,"i":0.4},{"mz":1293.725,"i":0.5},{"mz":1293.735,"i":0.35},{"mz":1293.745,"i":0.3},{"mz":1293.755,"i":0.25},{"mz":1293.765,"i":0.3},{"mz":1293.773,"i":0.87},{"mz":1293.782,"i":0.3},{"mz":1293.795,"i":0.2},{"mz":1293.805,"i":0.25},{"mz":1293.815,"i":0.2},{"mz":1293.83,"i":0.3},{"mz":1293.845,"i":0.8},{"mz":1293.855,"i":1.5},{"mz":1293.865,"i":2.8},{"mz":1293.875,"i":3.46},{"mz":1293.885,"i":2.0},{"mz":1293.898,"i":2.3},{"mz":1293.905,"i":1.2},{"mz":1293.915,"i":0.7},{"mz":1293.925,"i":0.5},{"mz":1293.935,"i":0.3},{"mz":1293.945,"i":0.2},{"mz":1293.955,"i":0.35},{"mz":1293.965,"i":0.2},{"mz":1293.975,"i":0.15},{"mz":1293.985,"i":0.3},{"mz":1293.995,"i":1.22},{"mz":1294.005,"i":0.4},{"mz":1294.015,"i":0.2},{"mz":1294.025,"i":0.15},{"mz":1294.035,"i":0.1},{"mz":1294.045,"i":0.15},{"mz":1294.06,"i":0.2},{"mz":1294.075,"i":0.5},{"mz":1294.09,"i":1.0},{"mz":1294.1,"i":1.4},{"mz":1294.11,"i":1.5},{"mz":1294.12,"i":1.7},{"mz":1294.13,"i":2.2},{"mz":1294.136,"i":2.91},{"mz":1294.145,"i":1.8},{"mz":1294.155,"i":1.1},{"mz":1294.165,"i":0.9},{"mz":1294.175,"i":0.8},{"mz":1294.185,"i":0.6},{"mz":1294.195,"i":0.5},{"mz":1294.205,"i":0.3},{"mz":1294.215,"i":0.25},{"mz":1294.23,"i":0.15},{"mz":1294.245,"i":0.12},{"mz":1294.26,"i":0.1},{"mz":1294.275,"i":0.12},{"mz":1294.29,"i":0.1},{"mz":1294.305,"i":0.2},{"mz":1294.32,"i":0.5},{"mz":1294.335,"i":0.6},{"mz":1294.35,"i":0.7},{"mz":1294.36,"i":0.9},{"mz":1294.375,"i":1.2},{"mz":1294.386,"i":1.5},{"mz":1294.396,"i":1.93},{"mz":1294.405,"i":1.0},{"mz":1294.415,"i":0.7},{"mz":1294.426,"i":1.03},{"mz":1294.435,"i":0.7},{"mz":1294.445,"i":0.5},{"mz":1294.455,"i":0.4},{"mz":1294.465,"i":0.45},{"mz":1294.475,"i":0.25},{"mz":1294.49,"i":0.1},{"mz":1294.505,"i":0.08},{"mz":1294.52,"i":0.05},{"mz":1294.535,"i":0.06},{"mz":1294.55,"i":0.04},{"mz":1294.565,"i":0.1},{"mz":1294.58,"i":0.3},{"mz":1294.594,"i":0.6},{"mz":1294.605,"i":0.25},{"mz":1294.615,"i":0.35},{"mz":1294.625,"i":0.45},{"mz":1294.635,"i":0.4},{"mz":1294.645,"i":0.5},{"mz":1294.655,"i":0.45},{"mz":1294.664,"i":0.55},{"mz":1294.672,"i":0.2},{"mz":1294.685,"i":0.08},{"mz":1294.7,"i":0.05},{"mz":1294.715,"i":0.08},{"mz":1294.73,"i":0.04},{"mz":1294.745,"i":0.1},{"mz":1294.76,"i":0.2},{"mz":1294.775,"i":0.3},{"mz":1294.785,"i":0.15},{"mz":1294.8,"i":0.06},{"mz":1294.815,"i":0.05},{"mz":1294.83,"i":0.08},{"mz":1294.845,"i":0.05},{"mz":1294.86,"i":0.1},{"mz":1294.875,"i":0.35},{"mz":1294.887,"i":0.6},{"mz":1294.894,"i":0.85},{"mz":1294.903,"i":0.4},{"mz":1294.912,"i":0.5},{"mz":1294.92,"i":0.3},{"mz":1294.93,"i":0.1},{"mz":1294.945,"i":0.06},{"mz":1294.96,"i":0.04},{"mz":1294.975,"i":0.05},{"mz":1294.99,"i":0.04},{"mz":1295.005,"i":0.12},{"mz":1295.02,"i":0.05},{"mz":1295.035,"i":0.04},{"mz":1295.05,"i":0.06},{"mz":1295.065,"i":0.2},{"mz":1295.077,"i":0.69},{"mz":1295.088,"i":0.25},{"mz":1295.097,"i":0.3},{"mz":1295.106,"i":0.5},{"mz":1295.115,"i":0.2},{"mz":1295.125,"i":0.3},{"mz":1295.135,"i":0.25},{"mz":1295.145,"i":0.15},{"mz":1295.16,"i":0.2},{"mz":1295.175,"i":0.08},{"mz":1295.19,"i":0.05},{"mz":1295.205,"i":0.06},{"mz":1295.22,"i":0.04},{"mz":1295.235,"i":0.05},{"mz":1295.25,"i":0.2},{"mz":1295.259,"i":0.3},{"mz":1295.27,"i":0.1},{"mz":1295.285,"i":0.06},{"mz":1295.3,"i":0.1},{"mz":1295.315,"i":0.18},{"mz":1295.325,"i":0.1},{"mz":1295.34,"i":0.22},{"mz":1295.355,"i":0.1},{"mz":1295.365,"i":0.2},{"mz":1295.375,"i":0.3},{"mz":1295.387,"i":0.53},{"mz":1295.397,"i":0.2},{"mz":1295.41,"i":0.35},{"mz":1295.423,"i":0.8},{"mz":1295.432,"i":0.85},{"mz":1295.442,"i":0.6},{"mz":1295.455,"i":0.3},{"mz":1295.465,"i":0.2},{"mz":1295.48,"i":0.1},{"mz":1295.495,"i":0.25},{"mz":1295.505,"i":0.1},{"mz":1295.52,"i":0.08},{"mz":1295.535,"i":0.15},{"mz":1295.55,"i":0.2},{"mz":1295.563,"i":0.45},{"mz":1295.575,"i":0.68},{"mz":1295.585,"i":0.4},{"mz":1295.595,"i":0.35},{"mz":1295.605,"i":0.15},{"mz":1295.62,"i":0.1},{"mz":1295.635,"i":0.25},{"mz":1295.645,"i":0.1},{"mz":1295.66,"i":0.06},{"mz":1295.675,"i":0.22},{"mz":1295.685,"i":0.08},{"mz":1295.7,"i":0.05},{"mz":1295.715,"i":0.08},{"mz":1295.73,"i":0.12},{"mz":1295.745,"i":0.05},{"mz":1295.76,"i":0.04},{"mz":1295.775,"i":0.06},{"mz":1295.79,"i":0.04},{"mz":1295.805,"i":0.05},{"mz":1295.82,"i":0.04},{"mz":1295.835,"i":0.06},{"mz":1295.85,"i":0.05},{"mz":1295.865,"i":0.15},{"mz":1295.875,"i":0.25},{"mz":1295.885,"i":0.08},{"mz":1295.9,"i":0.12},{"mz":1295.91,"i":0.2},{"mz":1295.92,"i":0.1},{"mz":1295.935,"i":0.25},{"mz":1295.945,"i":0.08},{"mz":1295.96,"i":0.15},{"mz":1295.975,"i":0.3},{"mz":1295.99,"i":0.1},{"mz":1296.005,"i":0.15},{"mz":1296.02,"i":0.25},{"mz":1296.035,"i":0.2},{"mz":1296.05,"i":0.45},{"mz":1296.065,"i":0.3},{"mz":1296.078,"i":0.4},{"mz":1296.091,"i":0.58},{"mz":1296.1,"i":0.2},{"mz":1296.115,"i":0.3},{"mz":1296.13,"i":0.35},{"mz":1296.145,"i":0.3}],
"Hs":[{"mz":1292.376,"i":0.63},{"mz":1292.567,"i":0.58},{"mz":1292.639,"i":0.79},{"mz":1292.672,"i":0.44},{"mz":1292.786,"i":0.76},{"mz":1292.876,"i":2.45},{"mz":1292.907,"i":1.13},{"mz":1292.988,"i":1.4},{"mz":1293.139,"i":4.25},{"mz":1293.187,"i":2.24},{"mz":1293.267,"i":0.69},{"mz":1293.383,"i":5.98},{"mz":1293.453,"i":0.73},{"mz":1293.543,"i":0.79},{"mz":1293.585,"i":0.65},{"mz":1293.626,"i":4.1},{"mz":1293.648,"i":3.72},{"mz":1293.773,"i":0.87},{"mz":1293.875,"i":3.46},{"mz":1293.898,"i":2.3},{"mz":1293.995,"i":1.22},{"mz":1294.136,"i":2.91},{"mz":1294.396,"i":1.93},{"mz":1294.426,"i":1.03},{"mz":1294.594,"i":0.6},{"mz":1294.664,"i":0.55},{"mz":1294.894,"i":0.85},{"mz":1294.912,"i":0.5},{"mz":1295.077,"i":0.69},{"mz":1295.106,"i":0.5},{"mz":1295.387,"i":0.53},{"mz":1295.432,"i":0.85},{"mz":1295.575,"i":0.68},{"mz":1296.091,"i":0.58}],
"He":[{"mz":1292.635,"i":0.94,"m":"y"},{"mz":1292.887,"i":2.56,"m":"y"},{"mz":1293.138,"i":4.2,"m":"y"},{"mz":1293.389,"i":4.78,"m":"y"},{"mz":1293.64,"i":4.25,"m":"y"},{"mz":1293.89,"i":3.14,"m":"y"},{"mz":1294.142,"i":2.03,"m":"y"},{"mz":1294.394,"i":1.22,"m":"y"},{"mz":1294.645,"i":0.66,"m":"n"},{"mz":1294.894,"i":0.47,"m":"y"},{"mz":1295.145,"i":0.39,"m":"n"}],
"Hb":[{"mz":1292.635,"lo":0.6,"hi":1.38,"m":"y"},{"mz":1292.887,"lo":1.56,"hi":3.57,"m":"y"},{"mz":1293.138,"lo":2.51,"hi":5.86,"m":"y"},{"mz":1293.389,"lo":2.88,"hi":6.72,"m":"y"},{"mz":1293.64,"lo":2.56,"hi":5.97,"m":"y"},{"mz":1293.89,"lo":1.98,"hi":4.39,"m":"y"},{"mz":1294.142,"lo":1.24,"hi":2.83,"m":"y"},{"mz":1294.394,"lo":0.76,"hi":1.66,"m":"y"},{"mz":1294.645,"lo":0.34,"hi":1.18,"m":"n"},{"mz":1294.894,"lo":0.18,"hi":0.87,"m":"y"},{"mz":1295.145,"lo":0.1,"hi":0.6,"m":"n"}],
"Hl":[{"mz":1291.833,"i":6.32,"t":"z","k":"big"},{"mz":1291.916,"i":6.58,"t":"4+","k":"bigs"},{"mz":1291.891,"i":5.9,"t":"48","k":"bigs"},{"mz":1293.389,"i":5.05,"t":"z","k":"sym"},{"mz":1293.42,"i":5.2,"t":"4+","k":"sm"},{"mz":1293.42,"i":4.89,"t":"48","k":"sm"},{"mz":1295.105,"i":1.29,"t":"nhpSer206","k":"name"}],
"sp":[{"a":0}]
},
"vconcat":[
{"width":1003,"height":226,
 "title":{"text":"E","anchor":"start","frame":"group","orient":"top","offset":0,"dx":-76,"dy":41,"baseline":"alphabetic","fontSize":34,"font":"Liberation Sans","fontWeight":"bold","color":"#000"},
 "encoding":{"x":{"field":"mz","type":"quantitative","scale":{"domain":[747.636,751.616],"nice":false,"zero":false},"axis":{"title":"m/z","values":[748,748.5,749,749.5,750,750.5,751,751.5],"format":".1f","titleX":421,"titleY":73}},
  "y":{"field":"i","type":"quantitative","scale":{"domain":[0,2.12],"nice":false},"axis":{"title":"Intensity","values":[0,0.2,0.4,0.6,0.8,1,1.2,1.4,1.6,1.8,2],"labelExpr":"datum.value > 0 && datum.value < 0.99 ? round(datum.value*1000) + 'm' : toString(round(datum.value*10)/10)","titleY":128}}},
 "layer":[
  {"data":{"name":"Eb"},"transform":[{"filter":"datum.m=='y'"}],"mark":{"type":"bar","width":5,"fill":"#e6f3fb","fillOpacity":0.7,"stroke":"#a6d3ef","strokeWidth":1},"encoding":{"y":{"field":"hi","type":"quantitative"},"y2":{"field":"lo"}}},
  {"data":{"name":"Ep"},"mark":{"type":"line","color":"#6d6d6d","strokeWidth":1.1}},
  {"data":{"name":"Es"},"mark":{"type":"rule","color":"#2b3752","strokeWidth":1.6},"encoding":{"y2":{"datum":0}}},
  {"data":{"name":"Ee"},"mark":{"type":"line","color":"#777777","strokeWidth":1.3}},
  {"data":{"name":"Ee"},"transform":[{"filter":"datum.m=='y'"}],"mark":{"type":"point","filled":false,"color":"#4aa3db","size":70,"strokeWidth":1.3}},
  {"data":{"name":"El"},"transform":[{"filter":"datum.k=='big'"}],"mark":{"type":"text","align":"left","baseline":"alphabetic","font":"Open Sans","fontSize":28,"fontWeight":"bold","color":"#4aa3db"},"encoding":{"text":{"field":"t"}}},
  {"data":{"name":"El"},"transform":[{"filter":"datum.k=='bigs'"}],"mark":{"type":"text","align":"left","baseline":"alphabetic","font":"Open Sans","fontSize":17,"fontWeight":"bold","color":"#4aa3db"},"encoding":{"text":{"field":"t"}}},
  {"data":{"name":"El"},"transform":[{"filter":"datum.k=='sym'"}],"mark":{"type":"text","align":"left","baseline":"alphabetic","font":"Roboto","fontSize":13,"color":"#4aa3db"},"encoding":{"text":{"field":"t"}}},
  {"data":{"name":"El"},"transform":[{"filter":"datum.k=='sm'"}],"mark":{"type":"text","align":"left","baseline":"alphabetic","font":"Roboto","fontSize":9,"color":"#4aa3db"},"encoding":{"text":{"field":"t"}}},
  {"data":{"name":"El"},"transform":[{"filter":"datum.k=='name'"}],"mark":{"type":"text","align":"left","baseline":"alphabetic","font":"Open Sans","fontSize":25,"color":"#000"},"encoding":{"text":{"field":"t"}}}
 ]},
{"width":1,"height":82,"data":{"name":"sp"},"mark":{"type":"point","opacity":0},"encoding":{}},
{"width":990,"height":223,
 "title":{"text":"F","anchor":"start","frame":"group","orient":"top","offset":0,"dx":-76,"dy":41,"baseline":"alphabetic","fontSize":34,"font":"Liberation Sans","fontWeight":"bold","color":"#000"},
 "encoding":{"x":{"field":"mz","type":"quantitative","scale":{"domain":[1517.4645,1521.9706],"nice":false,"zero":false},"axis":{"title":"m/z","values":[1517.5,1518,1518.5,1519,1519.5,1520,1520.5,1521,1521.5],"format":",.1f","titleX":424,"titleY":67}},
  "y":{"field":"i","type":"quantitative","scale":{"domain":[0,2.124],"nice":false},"axis":{"title":"Intensity","values":[0,0.2,0.4,0.6,0.8,1,1.2,1.4,1.6,1.8,2],"labelExpr":"datum.value > 0 && datum.value < 0.99 ? round(datum.value*1000) + 'm' : toString(round(datum.value*10)/10)","titleY":131}}},
 "layer":[
  {"data":{"name":"Fb"},"transform":[{"filter":"datum.m=='y'"}],"mark":{"type":"bar","width":5,"fill":"#e6f3fb","fillOpacity":0.7,"stroke":"#a6d3ef","strokeWidth":1},"encoding":{"y":{"field":"hi","type":"quantitative"},"y2":{"field":"lo"}}},
  {"data":{"name":"Fb"},"transform":[{"filter":"datum.m=='n'"}],"mark":{"type":"bar","width":5,"fillOpacity":0,"stroke":"#bbbbbb","strokeWidth":1,"strokeDash":[2,2]},"encoding":{"y":{"field":"hi","type":"quantitative"},"y2":{"field":"lo"}}},
  {"data":{"name":"Fp"},"mark":{"type":"line","color":"#6d6d6d","strokeWidth":1.1}},
  {"data":{"name":"Fs"},"mark":{"type":"rule","color":"#2b3752","strokeWidth":1.6},"encoding":{"y2":{"datum":0}}},
  {"data":{"name":"Fe"},"mark":{"type":"line","color":"#777777","strokeWidth":1.3}},
  {"data":{"name":"Fe"},"transform":[{"filter":"datum.m=='y'"}],"mark":{"type":"point","filled":false,"color":"#4aa3db","size":70,"strokeWidth":1.3}},
  {"data":{"name":"Fe"},"transform":[{"filter":"datum.m=='n'"}],"mark":{"type":"point","filled":false,"color":"#aaaaaa","size":50,"strokeWidth":1,"strokeDash":[2,2]}},
  {"data":{"name":"Fl"},"transform":[{"filter":"datum.k=='big'"}],"mark":{"type":"text","align":"left","baseline":"alphabetic","font":"Open Sans","fontSize":28,"fontWeight":"bold","color":"#4aa3db"},"encoding":{"text":{"field":"t"}}},
  {"data":{"name":"Fl"},"transform":[{"filter":"datum.k=='bigs'"}],"mark":{"type":"text","align":"left","baseline":"alphabetic","font":"Open Sans","fontSize":17,"fontWeight":"bold","color":"#4aa3db"},"encoding":{"text":{"field":"t"}}},
  {"data":{"name":"Fl"},"transform":[{"filter":"datum.k=='sym'"}],"mark":{"type":"text","align":"left","baseline":"alphabetic","font":"Roboto","fontSize":13,"color":"#4aa3db"},"encoding":{"text":{"field":"t"}}},
  {"data":{"name":"Fl"},"transform":[{"filter":"datum.k=='sm'"}],"mark":{"type":"text","align":"left","baseline":"alphabetic","font":"Roboto","fontSize":9,"color":"#4aa3db"},"encoding":{"text":{"field":"t"}}},
  {"data":{"name":"Fl"},"transform":[{"filter":"datum.k=='name'"}],"mark":{"type":"text","align":"left","baseline":"alphabetic","font":"Open Sans","fontSize":25,"color":"#000"},"encoding":{"text":{"field":"t"}}}
 ]},
{"width":1,"height":82,"data":{"name":"sp"},"mark":{"type":"point","opacity":0},"encoding":{}},
{"width":995,"height":223,
 "title":{"text":"G","anchor":"start","frame":"group","orient":"top","offset":0,"dx":-80,"dy":41,"baseline":"alphabetic","fontSize":34,"font":"Liberation Sans","fontWeight":"bold","color":"#000"},
 "encoding":{"x":{"field":"mz","type":"quantitative","scale":{"domain":[1592.7915,1601.167],"nice":false,"zero":false},"axis":{"title":"m/z","values":[1593,1593.5,1594,1594.5,1595,1595.5,1596,1596.5,1597,1597.5,1598,1598.5,1599,1599.5,1600,1600.5,1601],"format":",.1f","titleX":422,"titleY":45}},
  "y":{"field":"i","type":"quantitative","scale":{"domain":[0,7.16],"nice":false},"axis":{"title":"Intensity","values":[0,1,2,3,4,5,6,7],"format":"d","titleY":112}}},
 "layer":[
  {"data":{"name":"Gb"},"transform":[{"filter":"datum.m=='y'"}],"mark":{"type":"bar","width":5,"fill":"#e6f3fb","fillOpacity":0.7,"stroke":"#a6d3ef","strokeWidth":1},"encoding":{"y":{"field":"hi","type":"quantitative"},"y2":{"field":"lo"}}},
  {"data":{"name":"Gb"},"transform":[{"filter":"datum.m=='n'"}],"mark":{"type":"bar","width":5,"fillOpacity":0,"stroke":"#bbbbbb","strokeWidth":1,"strokeDash":[2,2]},"encoding":{"y":{"field":"hi","type":"quantitative"},"y2":{"field":"lo"}}},
  {"data":{"name":"Gp"},"mark":{"type":"line","color":"#6d6d6d","strokeWidth":1.1}},
  {"data":{"name":"Gs"},"mark":{"type":"rule","color":"#2b3752","strokeWidth":1.6},"encoding":{"y2":{"datum":0}}},
  {"data":{"name":"Ge"},"mark":{"type":"line","color":"#777777","strokeWidth":1.3}},
  {"data":{"name":"Ge"},"transform":[{"filter":"datum.m=='y'"}],"mark":{"type":"point","filled":false,"color":"#4aa3db","size":70,"strokeWidth":1.3}},
  {"data":{"name":"Ge"},"transform":[{"filter":"datum.m=='n'"}],"mark":{"type":"point","filled":false,"color":"#aaaaaa","size":50,"strokeWidth":1,"strokeDash":[2,2]}},
  {"data":{"name":"Gl"},"transform":[{"filter":"datum.k=='big'"}],"mark":{"type":"text","align":"left","baseline":"alphabetic","font":"Open Sans","fontSize":28,"fontWeight":"bold","color":"#4aa3db"},"encoding":{"text":{"field":"t"}}},
  {"data":{"name":"Gl"},"transform":[{"filter":"datum.k=='bigs'"}],"mark":{"type":"text","align":"left","baseline":"alphabetic","font":"Open Sans","fontSize":17,"fontWeight":"bold","color":"#4aa3db"},"encoding":{"text":{"field":"t"}}},
  {"data":{"name":"Gl"},"transform":[{"filter":"datum.k=='sym'"}],"mark":{"type":"text","align":"left","baseline":"alphabetic","font":"Roboto","fontSize":13,"color":"#4aa3db"},"encoding":{"text":{"field":"t"}}},
  {"data":{"name":"Gl"},"transform":[{"filter":"datum.k=='sm'"}],"mark":{"type":"text","align":"left","baseline":"alphabetic","font":"Roboto","fontSize":9,"color":"#4aa3db"},"encoding":{"text":{"field":"t"}}},
  {"data":{"name":"Gl"},"transform":[{"filter":"datum.k=='name'"}],"mark":{"type":"text","align":"left","baseline":"alphabetic","font":"Open Sans","fontSize":25,"color":"#000"},"encoding":{"text":{"field":"t"}}}
 ]},
{"width":1,"height":105,"data":{"name":"sp"},"mark":{"type":"point","opacity":0},"encoding":{}},
{"width":1001,"height":226,
 "title":{"text":"H","anchor":"start","frame":"group","orient":"top","offset":0,"dx":-79,"dy":41,"baseline":"alphabetic","fontSize":34,"font":"Liberation Sans","fontWeight":"bold","color":"#000"},
 "encoding":{"x":{"field":"mz","type":"quantitative","scale":{"domain":[1291.641,1296.15],"nice":false,"zero":false},"axis":{"title":"m/z","values":[1292,1292.5,1293,1293.5,1294,1294.5,1295,1295.5,1296],"format":",.1f","titleX":418,"titleY":55}},
  "y":{"field":"i","type":"quantitative","scale":{"domain":[0,7.16],"nice":false},"axis":{"title":"Intensity","values":[0,1,2,3,4,5,6,7],"format":"d","titleY":140}}},
 "layer":[
  {"data":{"name":"Hb"},"transform":[{"filter":"datum.m=='y'"}],"mark":{"type":"bar","width":5,"fill":"#e6f3fb","fillOpacity":0.7,"stroke":"#a6d3ef","strokeWidth":1},"encoding":{"y":{"field":"hi","type":"quantitative"},"y2":{"field":"lo"}}},
  {"data":{"name":"Hb"},"transform":[{"filter":"datum.m=='n'"}],"mark":{"type":"bar","width":5,"fillOpacity":0,"stroke":"#bbbbbb","strokeWidth":1,"strokeDash":[2,2]},"encoding":{"y":{"field":"hi","type":"quantitative"},"y2":{"field":"lo"}}},
  {"data":{"name":"Hp"},"mark":{"type":"line","color":"#6d6d6d","strokeWidth":1.1}},
  {"data":{"name":"Hs"},"mark":{"type":"rule","color":"#2b3752","strokeWidth":1.6},"encoding":{"y2":{"datum":0}}},
  {"data":{"name":"He"},"mark":{"type":"line","color":"#777777","strokeWidth":1.3}},
  {"data":{"name":"He"},"transform":[{"filter":"datum.m=='y'"}],"mark":{"type":"point","filled":false,"color":"#4aa3db","size":70,"strokeWidth":1.3}},
  {"data":{"name":"He"},"transform":[{"filter":"datum.m=='n'"}],"mark":{"type":"point","filled":false,"color":"#aaaaaa","size":50,"strokeWidth":1,"strokeDash":[2,2]}},
  {"data":{"name":"Hl"},"transform":[{"filter":"datum.k=='big'"}],"mark":{"type":"text","align":"left","baseline":"alphabetic","font":"Open Sans","fontSize":28,"fontWeight":"bold","color":"#4aa3db"},"encoding":{"text":{"field":"t"}}},
  {"data":{"name":"Hl"},"transform":[{"filter":"datum.k=='bigs'"}],"mark":{"type":"text","align":"left","baseline":"alphabetic","font":"Open Sans","fontSize":17,"fontWeight":"bold","color":"#4aa3db"},"encoding":{"text":{"field":"t"}}},
  {"data":{"name":"Hl"},"transform":[{"filter":"datum.k=='sym'"}],"mark":{"type":"text","align":"left","baseline":"alphabetic","font":"Roboto","fontSize":13,"color":"#4aa3db"},"encoding":{"text":{"field":"t"}}},
  {"data":{"name":"Hl"},"transform":[{"filter":"datum.k=='sm'"}],"mark":{"type":"text","align":"left","baseline":"alphabetic","font":"Roboto","fontSize":9,"color":"#4aa3db"},"encoding":{"text":{"field":"t"}}},
  {"data":{"name":"Hl"},"transform":[{"filter":"datum.k=='name'"}],"mark":{"type":"text","align":"left","baseline":"alphabetic","font":"Open Sans","fontSize":25,"color":"#000"},"encoding":{"text":{"field":"t"}}}
 ]}
],
"config":{
 "view":{"stroke":null},
 "axis":{"grid":false,"labelFont":"Roboto","labelFontSize":10,"labelColor":"#555555","tickColor":"#888888","tickSize":5,"titleFont":"Open Sans","titleFontWeight":"normal","titleColor":"#000000"},
 "axisX":{"domainColor":"#a88c8f","labelPadding":3,"titleFontSize":25,"titleAlign":"center","titleBaseline":"alphabetic","titleAngle":0},
 "axisY":{"domainColor":"#555555","labelPadding":6,"titleFontSize":18,"titleAngle":-90,"titleX":-67,"titleAlign":"center","titleBaseline":"alphabetic"}
}
}
